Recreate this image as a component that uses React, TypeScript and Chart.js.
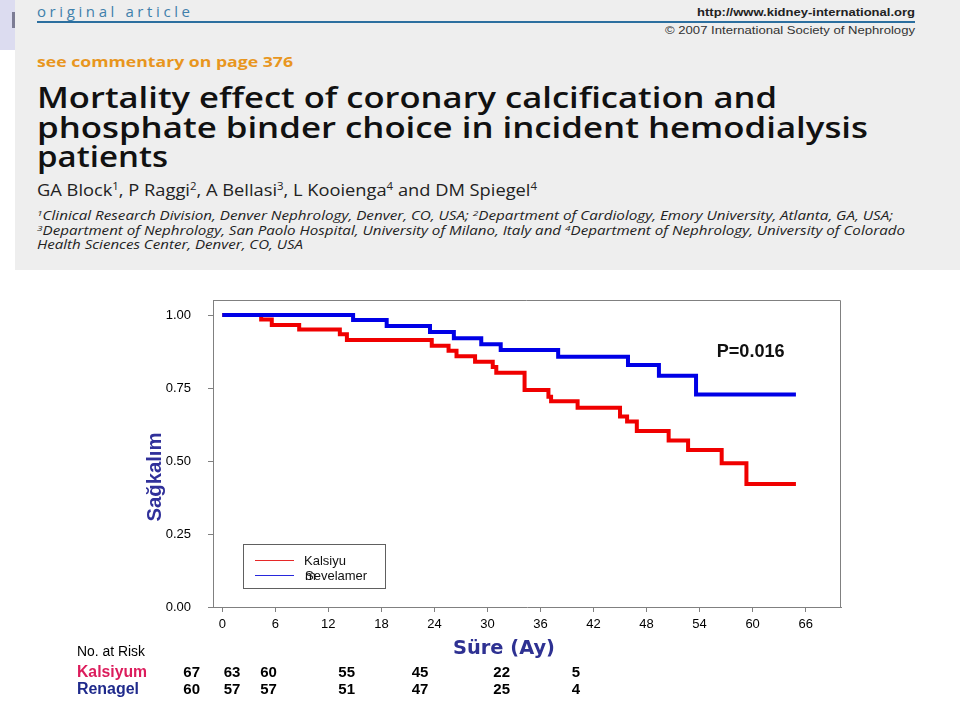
import React, { useEffect, useRef } from "react";
import { Chart, registerables } from "chart.js";

Chart.register(...registerables);

// ---------- data ----------
const monthTicks = [0, 6, 12, 18, 24, 30, 36, 42, 48, 54, 60, 66];
const survivalTicks = [0, 0.25, 0.5, 0.75, 1.0];

const kalsiyumMonths = [0, 4.4, 5.6, 8.7, 13.3, 14.1, 23.7, 25.6, 26.5, 28.6, 30.6, 31.0, 34.2, 36.9, 37.2, 40.2, 45.0, 45.8, 46.9, 50.5, 52.7, 56.5, 59.3, 64.9];
const kalsiyumSurvival = [1.0, 0.985, 0.966, 0.95, 0.934, 0.914, 0.895, 0.878, 0.859, 0.84, 0.822, 0.802, 0.743, 0.72, 0.705, 0.682, 0.652, 0.635, 0.603, 0.57, 0.538, 0.492, 0.421, 0.421];

const sevelamerMonths = [0, 14.8, 18.6, 23.5, 26.2, 29.3, 31.5, 38.0, 45.9, 49.4, 53.6, 64.9];
const sevelamerSurvival = [1.0, 0.983, 0.962, 0.942, 0.92, 0.9, 0.88, 0.857, 0.829, 0.792, 0.728, 0.728];

const riskLabels = ["Kalsiyum", "Renagel"];
const riskKalsiyum = [67, 63, 60, 55, 45, 22, 5];
const riskRenagel = [60, 57, 57, 51, 47, 25, 4];

const legendLabels = ["Kalsiyu", "m", "Sevelamer"];
const pValueText = "P=0.016";
const yTitle = "Sağkalım";
const xTitle = "Süre (Ay)";

// ---------- layout / style constants ----------
const RED = "rgb(240,0,0)";
const BLUE = "rgb(0,0,230)";
const LEGEND_RED = "rgb(230,40,40)";
const LEGEND_BLUE = "rgb(40,40,220)";
const AXIS_GREY = "#808080";
const SANS = "'Liberation Sans', Arial, sans-serif";
const riskColumnsX = [191.7, 232, 268.5, 346.7, 420, 501.7, 575.8];

const framePlugin = {
  id: "frame",
  afterDraw(chart: any) {
    const { ctx, chartArea } = chart;
    ctx.save();
    ctx.strokeStyle = AXIS_GREY;
    ctx.lineWidth = 1;
    ctx.beginPath();
    ctx.moveTo(chartArea.left, chartArea.top + 0.5);
    ctx.lineTo(chartArea.right - 0.5, chartArea.top + 0.5);
    ctx.lineTo(chartArea.right - 0.5, chartArea.bottom);
    ctx.stroke();
    ctx.restore();
  },
};

const legendPlugin = {
  id: "innerLegend",
  afterDatasetsDraw(chart: any) {
    const { ctx } = chart;
    ctx.save();
    ctx.fillStyle = "#ffffff";
    ctx.fillRect(243.5, 274.5, 142, 44);
    ctx.strokeStyle = "#606060";
    ctx.lineWidth = 1;
    ctx.strokeRect(243.5, 274.5, 142, 44);
    ctx.lineWidth = 1;
    ctx.strokeStyle = LEGEND_RED;
    ctx.beginPath();
    ctx.moveTo(255, 290.5);
    ctx.lineTo(294, 290.5);
    ctx.stroke();
    ctx.strokeStyle = LEGEND_BLUE;
    ctx.beginPath();
    ctx.moveTo(255, 305.5);
    ctx.lineTo(294, 305.5);
    ctx.stroke();
    ctx.fillStyle = "#111";
    ctx.font = `13px ${SANS}`;
    ctx.textBaseline = "alphabetic";
    ctx.textAlign = "left";
    ctx.fillText(legendLabels[0], 304, 294.5);
    ctx.fillText(legendLabels[1], 305, 310);
    ctx.fillText(legendLabels[2], 305, 310);
    ctx.restore();
  },
};

function Header() {
  const sup = (n: string) => (
    <tspan dy={-6} fontSize={10}>{n}</tspan>
  );
  const back = (t: string) => <tspan dy={6}>{t}</tspan>;
  const supI = (n: string) => (
    <tspan dy={-4} fontSize={8}>{n}</tspan>
  );
  const backI = (t: string) => <tspan dy={4}>{t}</tspan>;
  return (
    <svg width={960} height={270} style={{ position: "absolute", left: 0, top: 0 }}>
      <rect x={15} y={0} width={945} height={270} fill="#eeeeee" />
      <rect x={0} y={0} width={15} height={50} fill="#dcdcf0" />
      <rect x={12} y={12} width={3} height={16} fill="#7c7c94" />
      <text x={37} y={17} fontFamily="'Open Sans', sans-serif" fontSize={15} fill="#3f80ab" textLength={153} lengthAdjust="spacing">original article</text>
      <line x1={37} x2={915} y1={22} y2={22} stroke="#2c6f9f" strokeWidth={2} />
      <text x={915} y={16} textAnchor="end" fontFamily={SANS} fontWeight="bold" fontSize={11} fill="#222" textLength={218} lengthAdjust="spacingAndGlyphs">http://www.kidney-international.org</text>
      <text x={915} y={34} textAnchor="end" fontFamily={SANS} fontSize={11} fill="#333" textLength={250} lengthAdjust="spacingAndGlyphs">© 2007 International Society of Nephrology</text>
      <text x={37} y={67} fontFamily="'Open Sans', sans-serif" fontWeight="bold" fontSize={14} fill="#e8961e" textLength={256} lengthAdjust="spacingAndGlyphs">see commentary on page 376</text>
      <text x={37} y={108} fontFamily="'Open Sans', sans-serif" fontWeight={600} fontSize={28} fill="#111" textLength={740} lengthAdjust="spacingAndGlyphs">Mortality effect of coronary calcification and</text>
      <text x={37} y={138} fontFamily="'Open Sans', sans-serif" fontWeight={600} fontSize={28} fill="#111" textLength={831} lengthAdjust="spacingAndGlyphs">phosphate binder choice in incident hemodialysis</text>
      <text x={37} y={167} fontFamily="'Open Sans', sans-serif" fontWeight={600} fontSize={28} fill="#111" textLength={131} lengthAdjust="spacingAndGlyphs">patients</text>
      <text x={37} y={196} fontFamily="'Open Sans', sans-serif" fontSize={16} fill="#222" textLength={500} lengthAdjust="spacingAndGlyphs">
        GA Block{sup("1")}{back(", P Raggi")}{sup("2")}{back(", A Bellasi")}{sup("3")}{back(", L Kooienga")}{sup("4")}{back(" and DM Spiegel")}{sup("4")}
      </text>
      <text x={37} y={220} fontFamily="'Open Sans', sans-serif" fontStyle="italic" fontSize={12} fill="#222" textLength={856} lengthAdjust="spacingAndGlyphs">
        {supI("1")}{backI("Clinical Research Division, Denver Nephrology, Denver, CO, USA; ")}{supI("2")}{backI("Department of Cardiology, Emory University, Atlanta, GA, USA;")}
      </text>
      <text x={37} y={235} fontFamily="'Open Sans', sans-serif" fontStyle="italic" fontSize={12} fill="#222" textLength={868} lengthAdjust="spacingAndGlyphs">
        {supI("3")}{backI("Department of Nephrology, San Paolo Hospital, University of Milano, Italy and ")}{supI("4")}{backI("Department of Nephrology, University of Colorado")}
      </text>
      <text x={37} y={249} fontFamily="'Open Sans', sans-serif" fontStyle="italic" fontSize={12} fill="#222" textLength={266} lengthAdjust="spacingAndGlyphs">Health Sciences Center, Denver, CO, USA</text>
    </svg>
  );
}

function Overlay() {
  return (
    <svg width={960} height={702} style={{ position: "absolute", left: 0, top: 0, pointerEvents: "none" }}>
      <text transform="translate(161,477) rotate(-90)" textAnchor="middle" fontFamily={SANS} fontWeight="bold" fontSize={20} fill="#30309a" textLength={89} lengthAdjust="spacingAndGlyphs">{yTitle}</text>
      <text x={716.7} y={356.7} fontFamily={SANS} fontWeight="bold" fontSize={18} fill="#111" textLength={68} lengthAdjust="spacingAndGlyphs">{pValueText}</text>
      <text x={453} y={654} fontFamily="'DejaVu Sans', sans-serif" fontWeight="bold" fontSize={20} fill="#2e3192" textLength={102} lengthAdjust="spacingAndGlyphs">{xTitle}</text>
      <text x={77} y={656} fontFamily={SANS} fontSize={14} fill="#000" textLength={68} lengthAdjust="spacingAndGlyphs">No. at Risk</text>
      <text x={77} y={677} fontFamily={SANS} fontWeight="bold" fontSize={16} fill="#dc1c5c" textLength={70} lengthAdjust="spacingAndGlyphs">{riskLabels[0]}</text>
      <text x={77} y={694} fontFamily={SANS} fontWeight="bold" fontSize={16} fill="#1f2a8c" textLength={62} lengthAdjust="spacingAndGlyphs">{riskLabels[1]}</text>
      {riskKalsiyum.map((v, i) => (
        <text key={"k" + i} x={riskColumnsX[i]} y={677} textAnchor="middle" fontFamily={SANS} fontWeight="bold" fontSize={15} fill="#000">{v}</text>
      ))}
      {riskRenagel.map((v, i) => (
        <text key={"r" + i} x={riskColumnsX[i]} y={693.5} textAnchor="middle" fontFamily={SANS} fontWeight="bold" fontSize={15} fill="#000">{v}</text>
      ))}
    </svg>
  );
}

export default function App() {
  const canvasRef = useRef<HTMLCanvasElement | null>(null);

  useEffect(() => {
    const canvas = canvasRef.current;
    if (!canvas) return;
    const chart = new Chart(canvas, {
      type: "line",
      data: {
        datasets: [
          {
            label: "Sevelamer",
            data: sevelamerMonths.map((m, i) => ({ x: m, y: sevelamerSurvival[i] })),
            borderColor: BLUE,
            backgroundColor: BLUE,
            borderWidth: 4,
            stepped: "before",
            pointRadius: 0,
            fill: false,
          },
          {
            label: "Kalsiyum",
            data: kalsiyumMonths.map((m, i) => ({ x: m, y: kalsiyumSurvival[i] })),
            borderColor: RED,
            backgroundColor: RED,
            borderWidth: 4,
            stepped: "before",
            pointRadius: 0,
            fill: false,
          },
        ],
      },
      options: {
        animation: false,
        responsive: false,
        maintainAspectRatio: false,
        layout: { padding: { top: 30, right: 119, bottom: 65, left: 0 } },
        plugins: { legend: { display: false }, tooltip: { enabled: false } },
        scales: {
          x: {
            type: "linear",
            min: -1.05,
            max: 70,
            afterBuildTicks: (s: any) => {
              s.ticks = monthTicks.map((v) => ({ value: v }));
            },
            afterFit: (s: any) => {
              s.height = 30;
              s.paddingLeft = 0;
              s.paddingRight = 0;
            },
            ticks: {
              autoSkip: false,
              maxRotation: 0,
              padding: 5,
              color: "#000",
              font: { family: SANS, size: 13 },
              callback: (v: any) => String(v),
            },
            grid: { drawOnChartArea: false, drawTicks: true, tickLength: 5, color: AXIS_GREY },
            border: { display: true, color: AXIS_GREY, width: 1 },
          },
          y: {
            type: "linear",
            min: 0,
            max: 1.0514,
            afterBuildTicks: (s: any) => {
              s.ticks = survivalTicks.map((v) => ({ value: v }));
            },
            afterFit: (s: any) => {
              s.width = 213;
              s.paddingTop = 0;
              s.paddingBottom = 0;
            },
            ticks: {
              padding: 17,
              color: "#000",
              font: { family: SANS, size: 13 },
              callback: (v: any) => Number(v).toFixed(2),
            },
            grid: { drawOnChartArea: false, drawTicks: true, tickLength: 5, color: AXIS_GREY },
            border: { display: true, color: AXIS_GREY, width: 1 },
          },
        },
      },
      plugins: [framePlugin, legendPlugin],
    } as any);
    return () => chart.destroy();
  }, []);

  return (
    <div style={{ position: "fixed", left: 0, top: 0, width: 960, height: 702, background: "#fff", overflow: "hidden" }}>
      <Header />
      <canvas ref={canvasRef} width={960} height={432} style={{ position: "absolute", left: 0, top: 270, width: 960, height: 432 }} />
      <Overlay />
    </div>
  );
}
